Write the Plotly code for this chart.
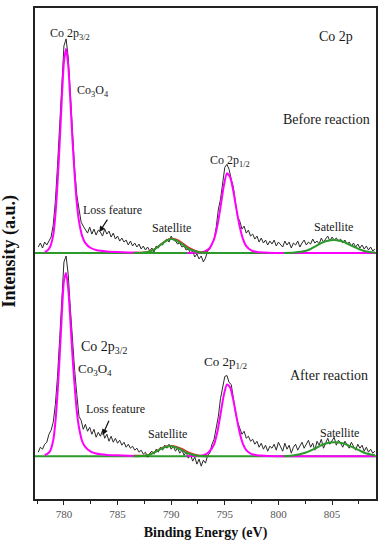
import numpy as np
import plotly.graph_objects as go

# ---------------- data (intensities relative to each panel's baseline, a.u.) -------------
# measured channels: 777.6 ... 809.0 eV, 0.2 eV step
X_DATA = np.round(np.arange(777.6, 809.0001, 0.2), 1)

BEFORE_RAW = [
    6, 10, 5, 11, 8, 12, 16, 28, 52, 88,
    125, 170, 208, 215, 196, 160, 118, 84, 58, 44,
    31, 27, 24, 20, 26, 19, 24, 18, 23, 21,
    17, 24, 19, 22, 16, 20, 14, 17, 12, 15,
    11, 13, 8, 12, 7, 10, 6, 9, 4, 7,
    3, 6, 2, 5, 1, 7, 5, 9, 8, 12,
    14, 11, 17, 13, 12, 9, 10, 6, 7, 3,
    4, 0, 2, -4, -1, -6, -3, -9, -5, 2,
    4, 9, 14, 26, 44, 54, 72, 86, 89, 84,
    74, 66, 50, 36, 32, 24, 27, 20, 23, 17,
    19, 14, 17, 11, 15, 10, 13, 8, 12, 9,
    13, 7, 11, 9, 6, 12, 8, 11, 5, 10,
    8, 12, 6, 10, 13, 8, 11, 9, 14, 10,
    12, 9, 15, 11, 14, 17, 12, 16, 13, 15,
    12, 14, 10, 13, 9, 11, 7, 10, 6, 9,
    5, 8, 4, 7, 3, 6, 2, 4,
]

AFTER_RAW = [
    4, 9, 7, 12, 14, 22, 26, 34, 52, 80,
    118, 160, 195, 201, 182, 148, 112, 86, 62, 40,
    36, 27, 32, 25, 29, 22, 27, 19, 24, 20,
    26, 18, 22, 15, 20, 14, 18, 13, 16, 11,
    14, 9, 12, 8, 10, 6, 8, 4, 6, 2,
    4, -1, 3, 5, 2, 7, 4, 9, 6, 11,
    8, 12, 7, 10, 5, 8, 3, 6, 1, 4,
    -2, 2, -5, -1, -8, -3, -10, -4, -7, 1,
    3, 12, 17, 30, 40, 58, 70, 80, 81, 74,
    72, 56, 44, 34, 28, 22, 25, 18, 20, 15,
    17, 12, 15, 9, 13, 7, 11, 5, 10, 8,
    12, 6, 14, 9, 5, 13, 7, 11, 3, 9,
    12, 6, 10, 14, 8, 12, 16, 9, 13, 6,
    15, 11, 17, 8, 14, 18, 12, 15, 19, 11,
    16, 13, 9, 15, 12, 8, 14, 10, 6, 12,
    8, 11, 5, 9, 4, 7, 3, 5,
]

# Co 2p main-peak fit curves (magenta)
FIT_X = [778.2, 778.4, 778.7, 779.0, 779.2, 779.4, 779.6, 779.8, 780.0, 780.2,
         780.4, 780.6, 780.8, 781.0, 781.2, 781.4, 781.7, 782.0, 782.5, 783.0,
         784.0, 785.0, 786.0, 787.0,
         791.5, 792.0, 793.0, 793.5, 794.0, 794.3, 794.6, 794.9, 795.2, 795.5,
         795.8, 796.1, 796.4, 796.7, 797.0, 797.5, 798.0, 799.0, 801.0, 805.0, 809.0]
BEFORE_FIT = [1.2, 2, 6, 18, 38, 70, 110, 155, 192, 205,
              188, 152, 112, 78, 50, 32, 17, 10, 5, 3,
              1.5, 1, 0.6, 0.3,
              0.1, 0.2, 1, 4, 14, 27, 46, 67, 80, 76,
              62, 43, 26, 14, 7, 2.5, 1, 0.3, 0, 0, 0]
AFTER_FIT = [1.1, 2, 5, 16, 34, 63, 100, 142, 176, 184,
             168, 136, 100, 70, 45, 29, 15, 9, 4.5, 2.7,
             1.3, 0.9, 0.5, 0.3,
             0.1, 0.2, 1, 4, 12, 24, 42, 61, 72, 69,
             56, 39, 23, 12, 6, 2, 1, 0.3, 0, 0, 0]

# satellite fits (green) and envelope (red) near 790 eV
SAT1_X = [786.5, 787.5, 788.0, 788.5, 789.0, 789.5, 790.0, 790.5, 791.0, 791.5, 792.0, 792.5, 793.5]
BEFORE_SAT1 = [0, 0.5, 1.5, 4, 8, 12, 14, 12.5, 9, 5, 2.5, 1, 0]
AFTER_SAT1 = [0, 0.5, 1.5, 4, 7, 9.5, 10, 8.5, 6, 3, 1.5, 0.5, 0]
BEFORE_ENV1 = [0.6, 0.8, 1.8, 4.5, 8.5, 12.5, 14.5, 13.5, 10.5, 6.5, 3.5, 1.5, 0.5]
AFTER_ENV1 = [0.6, 0.8, 1.8, 4.5, 7.5, 10, 10.5, 9.5, 7.5, 4.5, 2.5, 1, 0.5]

# satellite near 805 eV
SAT2_X = [800.5, 801.5, 802.5, 803.0, 803.5, 804.0, 804.5, 805.2, 806.0, 806.5, 807.0, 807.5, 808.0, 808.5, 809.0]
BEFORE_SAT2 = [0, 0.5, 2, 4, 7, 10, 12, 13, 11.5, 9, 6.5, 4, 2, 1, 0.5]
AFTER_SAT2 = [0, 1, 3.5, 5.5, 8, 11, 13, 14, 13, 11, 8.5, 6, 3.5, 2, 1]

TICK_VALS = [780, 785, 790, 795, 800, 805]

# ---------------- style ----------------
TOP_OFFSET = 204          # vertical stacking offset for the "before" spectrum
SERIF = "Liberation Serif"
BLACK = "#2a2a2a"
MAGENTA = "#ff00ff"
GREEN = "#2b9a2b"
RED = "#e3262b"

fig = go.Figure()


def add_panel(raw, fit, sat1, env1, sat2, off):
    # baseline
    fig.add_trace(go.Scatter(x=[777.3, 809.1], y=[off, off], mode="lines",
                             line=dict(color=GREEN, width=2), hoverinfo="skip"))
    # measured data
    fig.add_trace(go.Scatter(x=X_DATA, y=np.array(raw) + off, mode="lines",
                             line=dict(color=BLACK, width=1)))
    # main fits (two segments)
    fx = np.array(FIT_X)
    fy = np.array(fit) + off
    for mask in (fx <= 787.0, fx >= 791.5):
        fig.add_trace(go.Scatter(x=fx[mask], y=fy[mask], mode="lines",
                                 line=dict(color=MAGENTA, width=2, shape="spline", smoothing=0.6)))
    # envelope + satellites
    fig.add_trace(go.Scatter(x=SAT1_X, y=np.array(env1) + off, mode="lines",
                             line=dict(color=RED, width=1.5, shape="spline", smoothing=0.8)))
    fig.add_trace(go.Scatter(x=SAT1_X, y=np.array(sat1) + off, mode="lines",
                             line=dict(color=GREEN, width=2, shape="spline", smoothing=0.8)))
    fig.add_trace(go.Scatter(x=SAT2_X, y=np.array(sat2) + off, mode="lines",
                             line=dict(color=GREEN, width=2, shape="spline", smoothing=0.8)))


add_panel(BEFORE_RAW, BEFORE_FIT, BEFORE_SAT1, BEFORE_ENV1, BEFORE_SAT2, TOP_OFFSET)
add_panel(AFTER_RAW, AFTER_FIT, AFTER_SAT1, AFTER_ENV1, AFTER_SAT2, 0)

labels = [
    # text, x (eV), y, size
    ("Co 2p<sub>3/2</sub>", 780.6, 424, 12),
    ("Co<sub>3</sub>O<sub>4</sub>", 782.7, 367, 12),
    ("Co 2p", 805.4, 421, 14),
    ("Before reaction", 804.5, 338, 14),
    ("Loss feature", 784.55, 247, 12),
    ("Satellite", 790.05, 229, 12),
    ("Co 2p<sub>1/2</sub>", 795.45, 296, 12),
    ("Satellite", 805.1, 230, 12),
    ("Co 2p<sub>3/2</sub>", 783.75, 109, 14),
    ("Co<sub>3</sub>O<sub>4</sub>", 782.9, 87, 13),
    ("Co 2p<sub>1/2</sub>", 795.1, 94, 13),
    ("After reaction", 804.75, 81, 14),
    ("Loss feature", 784.8, 47, 12),
    ("Satellite", 789.7, 22, 12),
    ("Satellite", 805.7, 23, 12),
]
for t, x, y, s in labels:
    fig.add_annotation(x=x, y=y, text=t, showarrow=False,
                       font=dict(family=SERIF, size=s, color="#1a1a1a"))

# arrows pointing at loss feature
for hx, hy, ax, ay in [(783.3, 225, 9, -14), (783.6, 21, 7, -16)]:
    fig.add_annotation(x=hx, y=hy, text="", showarrow=True, ax=ax, ay=ay,
                       arrowhead=2, arrowsize=1, arrowwidth=1.2, arrowcolor="#111")

fig.update_layout(
    width=384, height=550,
    margin=dict(l=35, r=7, t=6, b=51),
    paper_bgcolor="white", plot_bgcolor="white",
    showlegend=False,
    font=dict(family=SERIF, color="#222"),
    xaxis=dict(
        range=[777.3, 809.1],
        tickvals=TICK_VALS,
        ticks="outside", ticklen=4, tickwidth=1, tickcolor="#222",
        minor=dict(ticks="outside", dtick=2.5, tick0=780, ticklen=3, tickcolor="#222"),
        tickfont=dict(family=SERIF, size=11, color="#555"),
        showline=True, linecolor="#222", linewidth=1.5, mirror=True,
        showgrid=False, zeroline=False,
        title=dict(text="<b>Binding Energy (eV)</b>", font=dict(family=SERIF, size=14, color="#111"),
                   standoff=8),
    ),
    yaxis=dict(
        range=[-43, 450],
        showticklabels=False, ticks="",
        showline=True, linecolor="#222", linewidth=1.5, mirror=True,
        showgrid=False, zeroline=False,
    ),
)

fig.add_annotation(xref="paper", yref="paper", x=-0.075, y=0.505, xanchor="center", yanchor="middle",
                   text="<b>Intensity (a.u.)</b>", textangle=-90, showarrow=False,
                   font=dict(family=SERIF, size=18, color="#111"))

fig.write_html("out.html", config={"displayModeBar": False},
               post_script="document.body.style.margin='0';document.body.style.overflow='hidden';")
